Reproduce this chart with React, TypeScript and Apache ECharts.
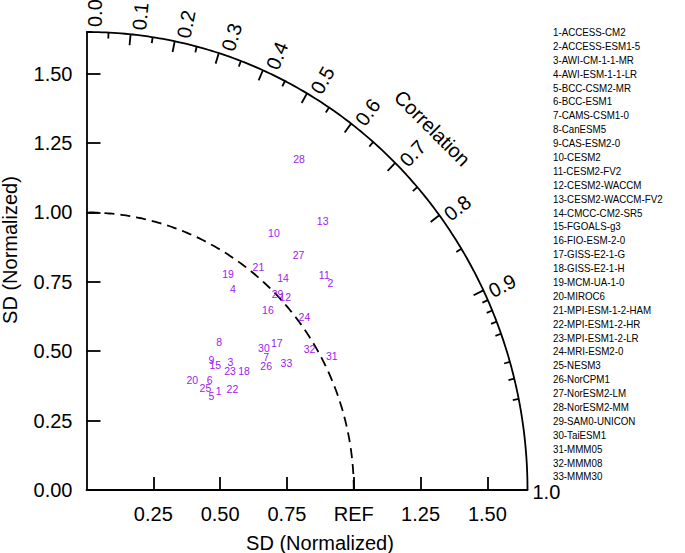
import React, { useEffect, useRef } from "react";
import * as echarts from "echarts";

const FONT = "'Liberation Sans', Arial, Helvetica, sans-serif";

const models = [
  "ACCESS-CM2", "ACCESS-ESM1-5", "AWI-CM-1-1-MR", "AWI-ESM-1-1-LR", "BCC-CSM2-MR",
  "BCC-ESM1", "CAMS-CSM1-0", "CanESM5", "CAS-ESM2-0", "CESM2", "CESM2-FV2",
  "CESM2-WACCM", "CESM2-WACCM-FV2", "CMCC-CM2-SR5", "FGOALS-g3", "FIO-ESM-2-0",
  "GISS-E2-1-G", "GISS-E2-1-H", "MCM-UA-1-0", "MIROC6", "MPI-ESM-1-2-HAM",
  "MPI-ESM1-2-HR", "MPI-ESM1-2-LR", "MRI-ESM2-0", "NESM3", "NorCPM1", "NorESM2-LM",
  "NorESM2-MM", "SAM0-UNICON", "TaiESM1", "MMM05", "MMM08", "MMM30",
];

// normalized standard deviation of each model
const sdValues = [
  0.610, 1.178, 0.709, 0.909, 0.576, 0.608, 0.826, 0.729, 0.661, 1.161, 1.180,
  1.017, 1.311, 1.061, 0.659, 0.939, 0.887, 0.729, 0.941, 0.559, 1.029,
  0.657, 0.688, 1.027, 0.578, 0.807, 1.160, 1.433, 1.005, 0.838, 1.037, 0.977, 0.877,
];

// correlation of each model with the reference
const corrValues = [
  0.810, 0.775, 0.760, 0.603, 0.811, 0.758, 0.814, 0.681, 0.707, 0.604, 0.754,
  0.731, 0.674, 0.693, 0.731, 0.723, 0.803, 0.809, 0.563, 0.708, 0.625,
  0.831, 0.781, 0.794, 0.770, 0.833, 0.684, 0.555, 0.711, 0.792, 0.885, 0.854, 0.853,
];

const SD_MAX = 1.65;
const REF_SD = 1.0;
const xTickValues = [0.25, 0.5, 0.75, 1.0, 1.25, 1.5];
const xTickLabels = ["0.25", "0.50", "0.75", "REF", "1.25", "1.50"];
const yTickValues = [0, 0.25, 0.5, 0.75, 1.0, 1.25, 1.5];
const yTickLabels = ["0.00", "0.25", "0.50", "0.75", "1.00", "1.25", "1.50"];
const corrMajorTicks = [0.1, 0.2, 0.3, 0.4, 0.5, 0.6, 0.7, 0.8, 0.9];
const corrMinorTicks = [0.05, 0.15, 0.25, 0.35, 0.45, 0.55, 0.65, 0.75, 0.85, 0.91, 0.92, 0.93, 0.94, 0.96, 0.97, 0.98];
const corrLabelValues = [0.0, 0.1, 0.2, 0.3, 0.4, 0.5, 0.6, 0.7, 0.8, 0.9, 1.0];

function arcPoints(radius: number): number[][] {
  const pts: number[][] = [];
  for (let i = 0; i <= 180; i++) {
    const t = (i / 180) * (Math.PI / 2);
    pts.push([radius * Math.cos(t), radius * Math.sin(t)]);
  }
  return pts;
}

function lookup(values: number[], labels: string[], v: number): string {
  for (let i = 0; i < values.length; i++) {
    if (Math.abs(values[i] - v) < 1e-6) return labels[i];
  }
  return "";
}

export default function App() {
  const ref = useRef<HTMLDivElement>(null);

  useEffect(() => {
    document.body.style.margin = "0";
    if (!ref.current) return;
    const chart = echarts.init(ref.current, undefined, { renderer: "svg" });

    const modelData = models.map((_, i) => {
      const sd = sdValues[i];
      const r = corrValues[i];
      return [sd * r, sd * Math.sqrt(1 - r * r), i + 1];
    });

    const legendText = models.map((m, i) => `${i + 1}-${m}`).join("\n");

    const option: any = {
      animation: false,
      textStyle: { fontFamily: FONT },
      grid: { left: 86.5, top: 32, width: 441, height: 458, containLabel: false },
      xAxis: {
        type: "value",
        min: 0,
        max: SD_MAX,
        splitLine: { show: false },
        axisLine: { show: true, onZero: false, lineStyle: { color: "#000", width: 1.8 } },
        axisTick: {
          show: true,
          inside: true,
          length: 13,
          customValues: xTickValues,
          lineStyle: { color: "#000", width: 1.8 },
        },
        axisLabel: {
          customValues: xTickValues,
          formatter: (v: number) => lookup(xTickValues, xTickLabels, v),
          color: "#000",
          fontSize: 20,
          fontFamily: FONT,
          margin: 14,
        },
      },
      yAxis: {
        type: "value",
        min: 0,
        max: SD_MAX,
        splitLine: { show: false },
        axisLine: { show: true, onZero: false, lineStyle: { color: "#000", width: 1.8 } },
        axisTick: {
          show: true,
          inside: true,
          length: 14,
          customValues: yTickValues,
          lineStyle: { color: "#000", width: 1.8 },
        },
        axisLabel: {
          customValues: yTickValues,
          formatter: (v: number) => lookup(yTickValues, yTickLabels, v),
          color: "#000",
          fontSize: 20,
          fontFamily: FONT,
          margin: 14,
        },
      },
      series: [
        {
          type: "line",
          data: arcPoints(SD_MAX),
          showSymbol: false,
          symbol: "none",
          silent: true,
          lineStyle: { color: "#000", width: 1.8 },
          z: 2,
        },
        {
          type: "line",
          data: arcPoints(REF_SD),
          showSymbol: false,
          symbol: "none",
          silent: true,
          lineStyle: { color: "#000", width: 1.8, type: [10, 6] },
          z: 2,
        },
        {
          type: "custom",
          coordinateSystem: "cartesian2d",
          clip: false,
          silent: true,
          z: 3,
          data: [[0, 0]],
          renderItem: (params: any, api: any) => {
            const o = api.coord([0, 0]);
            const children: any[] = [];
            const radial = (r: number) => {
              const s = Math.sqrt(Math.max(0, 1 - r * r));
              const p = api.coord([SD_MAX * r, SD_MAX * s]);
              const dx = p[0] - o[0];
              const dy = p[1] - o[1];
              const L = Math.hypot(dx, dy);
              return { p, ux: dx / L, uy: dy / L, s };
            };
            const addTick = (r: number, len: number) => {
              const { p, ux, uy } = radial(r);
              children.push({
                type: "line",
                shape: { x1: p[0], y1: p[1], x2: p[0] - ux * len, y2: p[1] - uy * len },
                style: { stroke: "#000", lineWidth: 1.8 },
              });
            };
            corrMajorTicks.forEach((r) => addTick(r, 11));
            corrMinorTicks.forEach((r) => addTick(r, 6));
            corrLabelValues.forEach((r) => {
              const { p, ux, uy, s } = radial(r);
              const nx = -uy;
              const ny = ux;
              const off = 1.5 + 6.5 * s;
              const gap = 5;
              children.push({
                type: "text",
                x: p[0] + ux * gap + nx * off,
                y: p[1] + uy * gap + ny * off,
                rotation: Math.atan2(-uy, ux),
                style: {
                  text: r.toFixed(1),
                  fontSize: 20,
                  fontFamily: FONT,
                  fill: "#000",
                  align: "left",
                  verticalAlign: "middle",
                },
              });
            });
            const cp = api.coord([1.294, 1.304]);
            children.push({
              type: "text",
              x: cp[0],
              y: cp[1],
              rotation: -Math.PI / 4,
              style: {
                text: "Correlation",
                fontSize: 20,
                fontFamily: FONT,
                fill: "#000",
                align: "center",
                verticalAlign: "middle",
              },
            });
            return { type: "group", children };
          },
        },
        {
          type: "custom",
          coordinateSystem: "cartesian2d",
          clip: false,
          silent: true,
          z: 4,
          data: modelData,
          renderItem: (params: any, api: any) => {
            const p = api.coord([api.value(0), api.value(1)]);
            return {
              type: "text",
              x: p[0],
              y: p[1],
              style: {
                text: String(api.value(2)),
                fontSize: 10.5,
                fontFamily: FONT,
                fill: "#a020f0",
                align: "center",
                verticalAlign: "middle",
              },
            };
          },
        },
      ],
      graphic: [
        {
          type: "text",
          x: 553,
          y: 25.4,
          scaleX: 0.93,
          style: {
            text: legendText,
            fontSize: 10.5,
            lineHeight: 13.89,
            fontFamily: FONT,
            fill: "#000",
            align: "left",
            verticalAlign: "top",
          },
        },
        {
          type: "text",
          x: 320,
          y: 543,
          style: {
            text: "SD (Normalized)",
            fontSize: 20,
            fontFamily: FONT,
            fill: "#000",
            align: "center",
            verticalAlign: "middle",
          },
        },
        {
          type: "text",
          x: 10,
          y: 250,
          rotation: Math.PI / 2,
          style: {
            text: "SD (Normalized)",
            fontSize: 20,
            fontFamily: FONT,
            fill: "#000",
            align: "center",
            verticalAlign: "middle",
          },
        },
      ],
    };

    chart.setOption(option);
    return () => chart.dispose();
  }, []);

  return <div ref={ref} style={{ width: 685, height: 553 }} />;
}
